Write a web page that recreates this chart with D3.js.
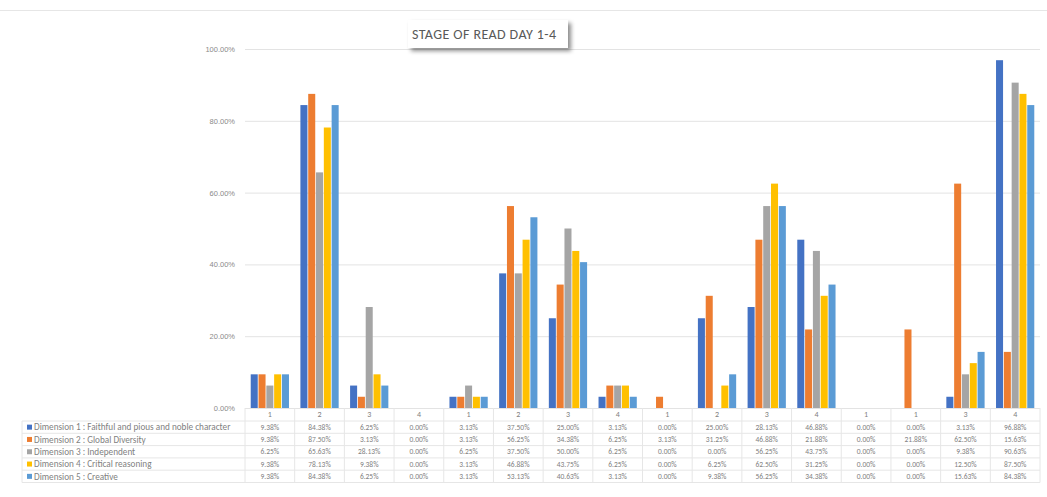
<!DOCTYPE html>
<html>
<head>
<meta charset="utf-8">
<script src="https://cdn.jsdelivr.net/npm/d3@7"></script>
<style>
  body { margin: 0; background: #fff; font-family: Calibri, Carlito, "Liberation Sans", Arial, sans-serif; }
  svg { display: block; }
</style>
</head>
<body>
<div id="chart"></div>
<script>
// Categorias (dias) y series
const categories = ["1", "2", "3", "4", "1", "2", "3", "4", "1", "2", "3", "4", "1", "1", "3", "4"];
const seriesNames = [
    "Dimension 1 : Faithful and pious and noble character",
    "Dimension 2 : Global Diversity",
    "Dimension 3 : Independent",
    "Dimension 4 : Critical reasoning",
    "Dimension 5 : Creative"
];
const dim1 = [9.38, 84.38, 6.25, 0, 3.13, 37.5, 25.0, 3.13, 0, 25.0, 28.13, 46.88, 0, 0, 3.13, 96.88];
const dim2 = [9.38, 87.5, 3.13, 0, 3.13, 56.25, 34.38, 6.25, 3.13, 31.25, 46.88, 21.88, 0, 21.88, 62.5, 15.63];
const dim3 = [6.25, 65.63, 28.13, 0, 6.25, 37.5, 50.0, 6.25, 0, 0, 56.25, 43.75, 0, 0, 9.38, 90.63];
const dim4 = [9.38, 78.13, 9.38, 0, 3.13, 46.88, 43.75, 6.25, 0, 6.25, 62.5, 31.25, 0, 0, 12.5, 87.5];
const dim5 = [9.38, 84.38, 6.25, 0, 3.13, 53.13, 40.63, 3.13, 0, 9.38, 56.25, 34.38, 0, 0, 15.63, 84.38];
const yTicks = [0, 20, 40, 60, 80, 100];
const colors = ["#4472C4", "#ED7D31", "#A5A5A5", "#FFC000", "#5B9BD5"];

const series = [dim1, dim2, dim3, dim4, dim5];

const W = 1047, H = 497;
const svg = d3.select("#chart").append("svg").attr("width", W).attr("height", H);

const plot = { left: 245, right: 1040, top: 49, bottom: 408 };

const x = d3.scaleBand().domain(d3.range(categories.length)).range([plot.left, plot.right]);
// grupo ocupa ~77% de la banda
const groupW = x.bandwidth() * 0.77;
const inner = d3.scaleBand().domain(d3.range(series.length))
    .range([(x.bandwidth() - groupW) / 2, (x.bandwidth() + groupW) / 2])
    .paddingInner(0.1);
const y = d3.scaleLinear().domain([0, 100]).range([plot.bottom, plot.top]);

// borde superior del area del grafico
svg.append("line")
    .attr("x1", 0).attr("x2", W).attr("y1", 10.5).attr("y2", 10.5)
    .attr("stroke", "#e6e6e6");

// Rejilla y eje Y
const yAxis = svg.append("g")
    .attr("transform", `translate(${plot.left},0)`)
    .call(d3.axisLeft(y).tickValues(yTicks).tickSize(-(plot.right - plot.left))
        .tickFormat(d => d.toFixed(2) + "%").tickPadding(10));
yAxis.select(".domain").remove();
yAxis.selectAll(".tick line").attr("stroke", "#e3e3e3");
yAxis.selectAll(".tick text").attr("fill", "#8a8a8a").style("font-size", "7.5px");

// Barras
series.forEach((vals, s) => {
    svg.append("g").selectAll("rect")
        .data(vals)
        .enter().append("rect")
        .attr("x", (d, i) => x(i) + inner(s))
        .attr("width", inner.bandwidth())
        .attr("y", d => y(d))
        .attr("height", d => y(0) - y(d))
        .attr("fill", colors[s]);
});

// Tabla de datos
const rowH = 12.3;
const tableTop = plot.bottom;
const headH = 13;
const tableLeft = 22;
const tableBottom = tableTop + headH + rowH * series.length;
const table = svg.append("g");

// lineas horizontales
const hLines = [tableTop + headH].concat(d3.range(1, series.length + 1).map(r => tableTop + headH + r * rowH));
table.selectAll(".hl").data(hLines).enter().append("line")
    .attr("x1", tableLeft).attr("x2", plot.right)
    .attr("y1", d => d).attr("y2", d => d)
    .attr("stroke", "#e6e6e6");
table.append("line")
    .attr("x1", tableLeft).attr("x2", tableLeft)
    .attr("y1", tableTop + headH).attr("y2", tableBottom)
    .attr("stroke", "#e6e6e6");
// lineas verticales
table.selectAll(".vl").data(d3.range(categories.length + 1)).enter().append("line")
    .attr("x1", i => i < categories.length ? x(i) : plot.right)
    .attr("x2", i => i < categories.length ? x(i) : plot.right)
    .attr("y1", tableTop).attr("y2", tableBottom)
    .attr("stroke", "#e6e6e6");

// etiquetas de categoria
table.selectAll(".cat").data(categories).enter().append("text")
    .attr("x", (d, i) => x(i) + x.bandwidth() / 2)
    .attr("y", tableTop + headH / 2)
    .attr("dy", "0.35em")
    .attr("text-anchor", "middle")
    .attr("fill", "#7f7f7f")
    .style("font-size", "8px")
    .text(d => d);

// filas
series.forEach((vals, s) => {
    const cy = tableTop + headH + rowH * s + rowH / 2;
    table.append("rect")
        .attr("x", tableLeft + 5).attr("y", cy - 2.5).attr("width", 5).attr("height", 5)
        .attr("fill", colors[s]);
    table.append("text")
        .attr("x", tableLeft + 12).attr("y", cy).attr("dy", "0.35em")
        .attr("fill", "#7f7f7f").style("font-size", "9.2px")
        .text(seriesNames[s]);
    table.selectAll(".v" + s).data(vals).enter().append("text")
        .attr("x", (d, i) => x(i) + x.bandwidth() / 2)
        .attr("y", cy).attr("dy", "0.35em")
        .attr("text-anchor", "middle")
        .attr("fill", "#7f7f7f").style("font-size", "7.5px")
        .text(d => d.toFixed(2) + "%");
});

// Titulo con sombra
const defs = svg.append("defs");
const f = defs.append("filter").attr("id", "shadow").attr("x", "-20%").attr("y", "-40%").attr("width", "140%").attr("height", "180%");
f.append("feDropShadow").attr("dx", 3).attr("dy", 3).attr("stdDeviation", 2)
    .attr("flood-color", "#000").attr("flood-opacity", 0.45);

svg.append("rect")
    .attr("x", 408).attr("y", 20).attr("width", 160).attr("height", 28)
    .attr("fill", "#fff").attr("filter", "url(#shadow)");
svg.append("text")
    .attr("x", 412).attr("y", 34).attr("dy", "0.35em")
    .attr("text-anchor", "start")
    .attr("fill", "#595959")
    .style("font-size", "14px")
    .attr("textLength", 144)
    .text("STAGE OF READ DAY 1-4");
</script>
</body>
</html>
